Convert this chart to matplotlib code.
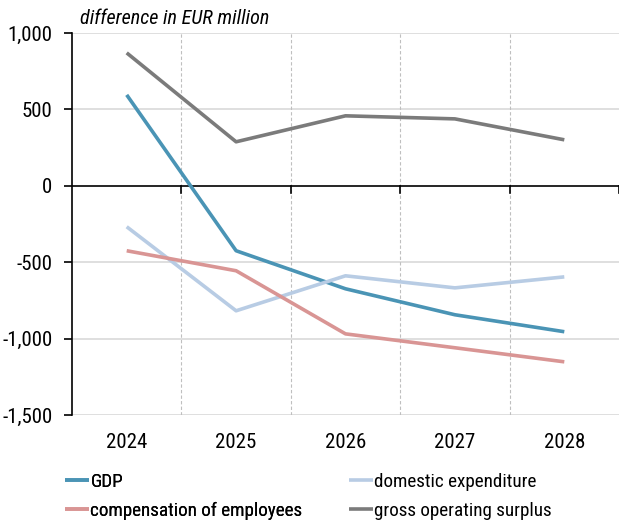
import matplotlib
matplotlib.use("Agg")
import matplotlib.pyplot as plt
from matplotlib.font_manager import fontManager

years = ["2024", "2025", "2026", "2027", "2028"]
gdp = [595, -425, -674, -844, -955]
domestic_expenditure = [-268, -818, -589, -668, -596]
compensation = [-425, -556, -969, -1060, -1152]
gross_operating_surplus = [870, 288, 458, 438, 301]

series_names = ["GDP", "domestic expenditure",
                "compensation of employees", "gross operating surplus"]
colors = ["#4a94b5", "#b8cce4", "#d99594", "#7b7b7b"]

# pick a narrow face if one is installed
names = {f.name for f in fontManager.ttflist}
family = "DejaVu Sans"
for cand in ["Roboto Condensed", "Open Sans Condensed", "Liberation Sans Narrow"]:
    if cand in names:
        family = cand
        break
plt.rcParams["font.family"] = [family, "DejaVu Sans"]

fig = plt.figure(figsize=(6.19, 5.28), dpi=100)
ax = fig.add_axes([72 / 619, 1 - 415 / 528, 547 / 619, 382 / 528])

x = list(range(len(years)))
lines = []
for vals, name, c in zip([gdp, domestic_expenditure, compensation, gross_operating_surplus],
                         series_names, colors):
    ln, = ax.plot(x, vals, color=c, lw=2.6, label=name, solid_capstyle="butt", zorder=3)
    lines.append(ln)

ax.set_xlim(-0.5, len(years) - 0.5)
ax.set_ylim(-1500, 1000)
ax.set_yticks([-1500, -1000, -500, 0, 500, 1000])
ax.set_yticklabels(["-1,500", "-1,000", "-500", "0", "500", "1,000"])
ax.tick_params(axis="y", length=6, width=1.2, labelsize=15, pad=8)

# horizontal grid and category dividers
for v in [-1500, -1000, -500, 500, 1000]:
    ax.axhline(v, color="#d9d9d9", lw=1.2, zorder=1)
for b in [0.5, 1.5, 2.5, 3.5]:
    ax.axvline(b, color="#bfbfbf", lw=0.8, ls=(0, (3, 2)), zorder=1)
ax.axhline(0, color="black", lw=1.2, zorder=2)
for b in [0.5, 1.5, 2.5, 3.5, 4.5]:
    ax.plot([b, b], [0, -45], color="black", lw=1.2, zorder=2, clip_on=False)

ax.set_xticks(x)
ax.set_xticklabels(years)
ax.tick_params(axis="x", length=0, labelsize=15, pad=13)

for s in ["top", "right", "bottom"]:
    ax.spines[s].set_visible(False)
ax.spines["left"].set_linewidth(1.2)

fig.text(80 / 619, 1 - 18 / 528, "difference in EUR million", fontsize=14.5,
         style="italic", va="center", ha="left")

# two legend columns placed separately
leg_kw = dict(loc="upper left", frameon=False, fontsize=13.8, handlelength=1.25,
              handletextpad=0.08, labelspacing=0.55, borderaxespad=0, borderpad=0)
leg1 = fig.legend([lines[0], lines[2]], [series_names[0], series_names[2]],
                  bbox_to_anchor=(65 / 619, 1 - 473 / 528), **leg_kw)
fig.add_artist(leg1)
fig.legend([lines[1], lines[3]], [series_names[1], series_names[3]],
           bbox_to_anchor=(349 / 619, 1 - 473 / 528), **leg_kw)

fig.savefig("out.png", dpi=100)
